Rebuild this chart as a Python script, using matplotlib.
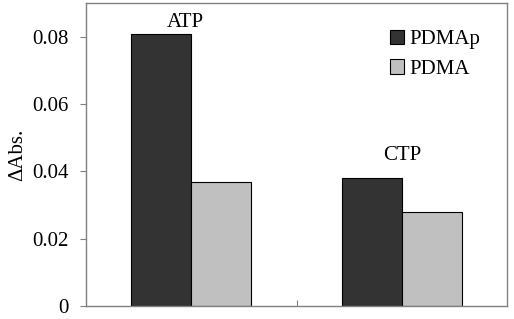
import numpy as np
import matplotlib.pyplot as plt

plt.rcParams['font.family'] = ['Liberation Serif', 'DejaVu Serif']

# data
groups = ['ATP', 'CTP']
series = ['PDMAp', 'PDMA']
pdmap = [0.0809, 0.0380]
pdma = [0.0369, 0.0278]
colors = ['#333333', '#c0c0c0']
yticks = [0, 0.02, 0.04, 0.06, 0.08]
ytick_labels = ['0', '0.02', '0.04', '0.06', '0.08']

fig = plt.figure(figsize=(5.14, 3.19), dpi=100)
ax = fig.add_axes([0.1673, 0.0408, 0.8191, 0.9498])

x = np.arange(len(groups))
w = 0.285
ax.bar(x - w / 2, pdmap, w, color=colors[0], edgecolor='black', linewidth=0.8, label=series[0])
ax.bar(x + w / 2, pdma, w, color=colors[1], edgecolor='black', linewidth=0.8, label=series[1])

# group labels, placed by hand like in the original
label_x = [-0.03, 1.004]
label_y = [0.0829, 0.0434]
for lx, ly, name in zip(label_x, label_y, groups):
    ax.text(lx, ly, name, ha='center', va='baseline', fontsize=15)

ax.set_xlim(-0.5, 1.5)
ax.set_ylim(0, 0.09)
ax.set_xticks([0.5])
ax.set_xticklabels([''])
ax.tick_params(axis='x', direction='in', length=4, color='#808080')
ax.set_yticks(yticks)
ax.set_yticklabels(ytick_labels, fontsize=15)
ax.tick_params(axis='y', direction='out', length=4, color='#808080', pad=8.5)
for s in ax.spines.values():
    s.set_color('#808080')
    s.set_linewidth(1.0)

ax.set_ylabel('ΔAbs.', fontsize=15)
ax.yaxis.set_label_coords(-0.14, 0.5)

ax.legend(loc='upper left', frameon=False, fontsize=15, handlelength=0.67, handleheight=0.67,
          handletextpad=0.25, labelspacing=0.5, borderpad=0, borderaxespad=0,
          bbox_to_anchor=(0.722, 0.912))

fig.savefig('out.png', dpi=100)
